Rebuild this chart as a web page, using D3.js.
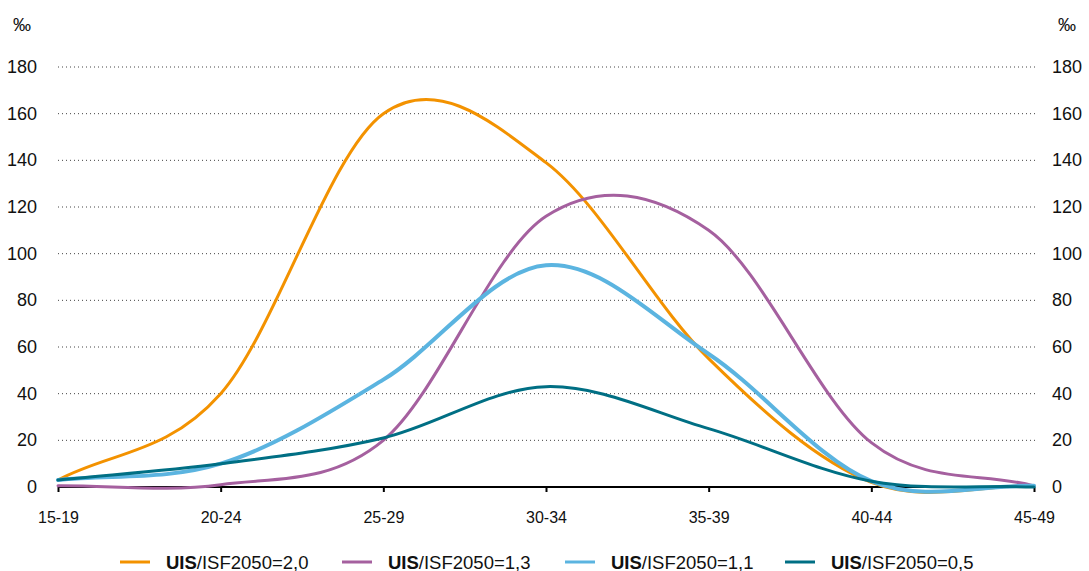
<!DOCTYPE html>
<html>
<head>
<meta charset="utf-8">
<script src="https://cdn.jsdelivr.net/npm/d3@7"></script>
<style>
  html, body { margin: 0; padding: 0; background: #fff; }
  svg { display: block; font-family: "Liberation Sans", Arial, sans-serif; }
</style>
</head>
<body>
<svg id="chart" width="1089" height="571"></svg>
<script>
// Age groups along the x axis
const ageGroups = ["15-19", "20-24", "25-29", "30-34", "35-39", "40-44", "45-49"];

// Fertility rates (per mille) by scenario
const series20 = [3, 40, 160, 139, 55, 2, 0.5];
const series13 = [0.5, 1, 20, 116, 110, 19, 0.5];
const series11 = [3, 10, 46, 95, 57, 2.5, 0.5];
const series05 = [3, 10, 21, 43, 25, 2.5, 0];

const yTicks = [0, 20, 40, 60, 80, 100, 120, 140, 160, 180];

const seriesNames = ["=2,0", "=1,3", "=1,1", "=0,5"];
const seriesColors = ["#f39200", "#a5609f", "#5bb4e0", "#006f84"];
const seriesWidths = [3, 3, 4, 3];
const allSeries = [series20, series13, series11, series05];

// Smoothed line: Catmull-Rom Bezier segments, with mirrored phantom points at both ends
function SmoothCurve(context) { this._context = context; }
SmoothCurve.prototype = {
  areaStart() { this._line = 0; },
  areaEnd() { this._line = NaN; },
  lineStart() { this._pts = []; },
  point(x, y) { this._pts.push([+x, +y]); },
  lineEnd() {
    const p = this._pts, n = p.length, c = this._context;
    if (!n) return;
    c.moveTo(p[0][0], p[0][1]);
    for (let i = 0; i < n - 1; i++) {
      const p1 = p[i], p2 = p[i + 1];
      const p0 = i > 0 ? p[i - 1] : [2 * p1[0] - p2[0], 2 * p1[1] - p2[1]];
      const p3 = i + 2 < n ? p[i + 2] : [2 * p2[0] - p1[0], 2 * p2[1] - p1[1]];
      c.bezierCurveTo(
        p1[0] + (p2[0] - p0[0]) / 6, p1[1] + (p2[1] - p0[1]) / 6,
        p2[0] - (p3[0] - p1[0]) / 6, p2[1] - (p3[1] - p1[1]) / 6,
        p2[0], p2[1]);
    }
  }
};
const curveSmooth = context => new SmoothCurve(context);

const svg = d3.select("#chart");
const plotLeft = 58, plotRight = 1034, plotTop = 67, plotBottom = 487;

const x = d3.scalePoint().domain(ageGroups).range([plotLeft, plotRight]);
const y = d3.scaleLinear().domain([0, 180]).range([plotBottom, plotTop]);

// Dotted horizontal gridlines
svg.append("g")
  .selectAll("line")
  .data(yTicks.filter(d => d > 0))
  .join("line")
  .attr("x1", plotLeft).attr("x2", plotRight + 2)
  .attr("y1", d => y(d)).attr("y2", d => y(d))
  .attr("stroke", "#444")
  .attr("stroke-width", 1)
  .attr("stroke-dasharray", "1,3");

// Left and right value labels
const yLabelStyle = sel => sel.attr("font-size", 18).attr("fill", "#111").attr("dominant-baseline", "central");
svg.append("g").selectAll("text").data(yTicks).join("text")
  .attr("x", 37).attr("y", d => y(d))
  .attr("text-anchor", "end")
  .text(d => d).call(yLabelStyle);
svg.append("g").selectAll("text").data(yTicks).join("text")
  .attr("x", 1052).attr("y", d => y(d))
  .attr("text-anchor", "start")
  .text(d => d).call(yLabelStyle);

// Unit labels
svg.append("text").attr("x", 22).attr("y", 25).attr("text-anchor", "middle")
  .attr("font-size", 18).attr("fill", "#111").attr("dominant-baseline", "central").text("‰");
svg.append("text").attr("x", 1067).attr("y", 25).attr("text-anchor", "middle")
  .attr("font-size", 18).attr("fill", "#111").attr("dominant-baseline", "central").text("‰");

// X axis
const xAxis = svg.append("g")
  .attr("transform", `translate(0,${plotBottom})`)
  .call(d3.axisBottom(x).tickSize(5).tickPadding(20).tickSizeOuter(0));
xAxis.select(".domain").attr("stroke", "#000").attr("stroke-width", 2)
  .attr("d", `M${plotLeft},0H${plotRight}`);
xAxis.selectAll(".tick line").attr("stroke", "#000").attr("stroke-width", 2);
xAxis.selectAll(".tick text")
  .attr("font-size", 16).attr("fill", "#111")
  .attr("font-family", "Liberation Sans, Arial, sans-serif");

// Scenario lines
const line = d3.line()
  .x((d, i) => x(ageGroups[i]))
  .y(d => y(d))
  .curve(curveSmooth);

svg.append("g")
  .selectAll("path")
  .data(allSeries)
  .join("path")
  .attr("d", d => line(d))
  .attr("fill", "none")
  .attr("stroke", (d, i) => seriesColors[i])
  .attr("stroke-width", (d, i) => seriesWidths[i])
  .attr("stroke-linejoin", "round")
  .attr("stroke-linecap", "round");

// Legend
const legendX = [120, 342, 565, 785];
const legend = svg.append("g");
seriesNames.forEach((name, i) => {
  const g = legend.append("g").attr("transform", `translate(${legendX[i]},562)`);
  g.append("line").attr("x1", 0).attr("x2", 30).attr("y1", 0).attr("y2", 0)
    .attr("stroke", seriesColors[i]).attr("stroke-width", 3);
  const t = g.append("text").attr("x", 46).attr("y", 0)
    .attr("dominant-baseline", "central").attr("font-size", 18.5).attr("fill", "#111");
  t.append("tspan").attr("font-weight", "bold").text("UIS");
  t.append("tspan").text("/ISF2050" + name);
});
</script>
</body>
</html>
